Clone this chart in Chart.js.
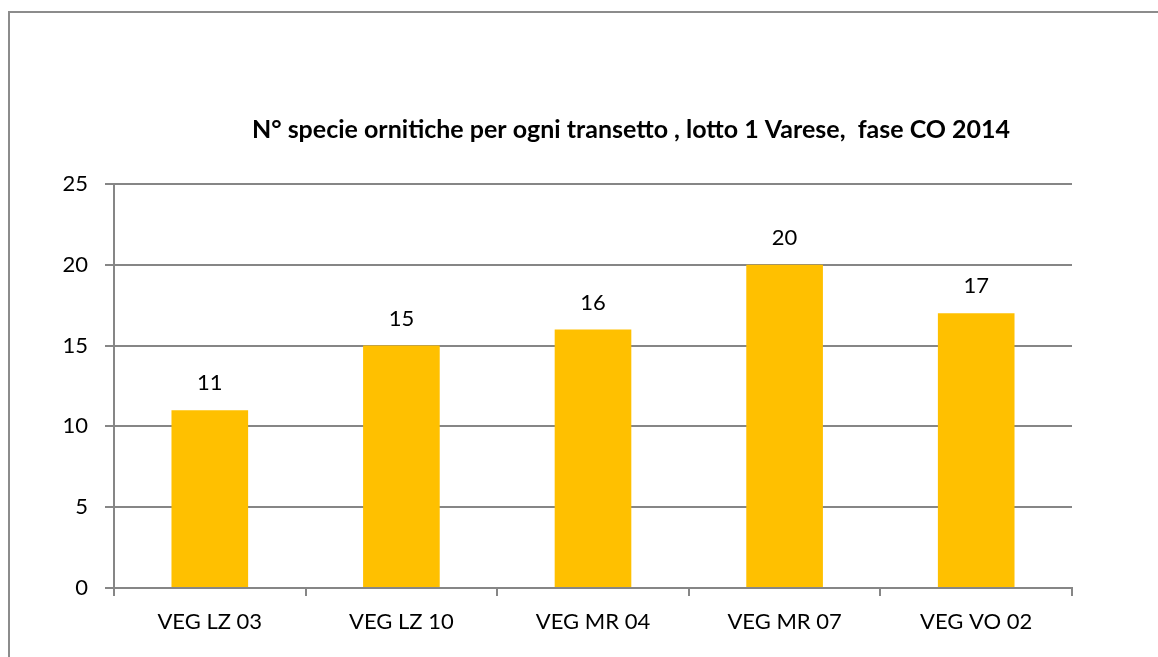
<!DOCTYPE html>
<html>
<head>
<meta charset="utf-8">
<script src="https://cdn.jsdelivr.net/npm/chart.js@4.4.1/dist/chart.umd.min.js"></script>
<style>
  html, body { margin: 0; padding: 0; background: #fff; }
  #wrap { width: 1158px; height: 657px; }
</style>
</head>
<body>
<div id="wrap"><canvas id="chart" width="1158" height="657"></canvas></div>
<script>
// values
const categories = ['VEG LZ 03', 'VEG LZ 10', 'VEG MR 04', 'VEG MR 07', 'VEG VO 02'];
const speciesCount = [11, 15, 16, 20, 17];
const chartTitle = 'N° specie ornitiche per ogni transetto , lotto 1 Varese,  fase CO 2014';

const FONT = 'Lato, "Open Sans", sans-serif';
const LINE = '#868686';

// frame, title and value labels
const extras = {
  id: 'extras',
  beforeDraw(chart) {
    const ctx = chart.ctx;
    ctx.save();
    ctx.strokeStyle = '#8c8c8c';
    ctx.lineWidth = 2;
    ctx.beginPath();
    ctx.moveTo(9, chart.height);
    ctx.lineTo(9, 12);
    ctx.lineTo(chart.width, 12);
    ctx.stroke();
    ctx.restore();
  },
  afterDatasetsDraw(chart) {
    const ctx = chart.ctx;
    const area = chart.chartArea;
    ctx.save();
    ctx.fillStyle = '#000';
    ctx.textAlign = 'center';
    ctx.textBaseline = 'middle';
    ctx.font = 'bold 25px ' + FONT;
    ctx.fillText(chartTitle, (area.left + area.right) / 2 + 38, area.top - 54);

    ctx.font = '22px ' + FONT;
    const meta = chart.getDatasetMeta(0);
    meta.data.forEach((bar, i) => {
      ctx.fillText(String(speciesCount[i]), bar.x, bar.y - 27);
    });
    ctx.restore();
  }
};

new Chart(document.getElementById('chart'), {
  type: 'bar',
  data: {
    labels: categories,
    datasets: [{
      data: speciesCount,
      backgroundColor: '#FFC000',
      borderWidth: 0,
      categoryPercentage: 1,
      barPercentage: 0.4
    }]
  },
  options: {
    responsive: false,
    animation: false,
    layout: { padding: { top: 184, left: 0, right: 86, bottom: 0 } },
    plugins: {
      legend: { display: false },
      title: { display: false },
      tooltip: { enabled: false }
    },
    scales: {
      x: {
        afterFit: (scale) => { scale.height = 69; },
        grid: {
          drawOnChartArea: false,
          color: LINE,
          lineWidth: 2,
          tickLength: 8
        },
        border: { color: LINE, width: 2 },
        ticks: {
          color: '#000',
          font: { family: FONT, size: 22 },
          padding: 13,
          maxRotation: 0
        }
      },
      y: {
        min: 0,
        max: 25,
        afterFit: (scale) => { scale.width = 114; },
        grid: {
          color: LINE,
          lineWidth: 2,
          tickLength: 9
        },
        border: { color: LINE, width: 2 },
        ticks: {
          stepSize: 5,
          color: '#000',
          font: { family: FONT, size: 22 },
          padding: 17
        }
      }
    }
  },
  plugins: [extras]
});
</script>
</body>
</html>
